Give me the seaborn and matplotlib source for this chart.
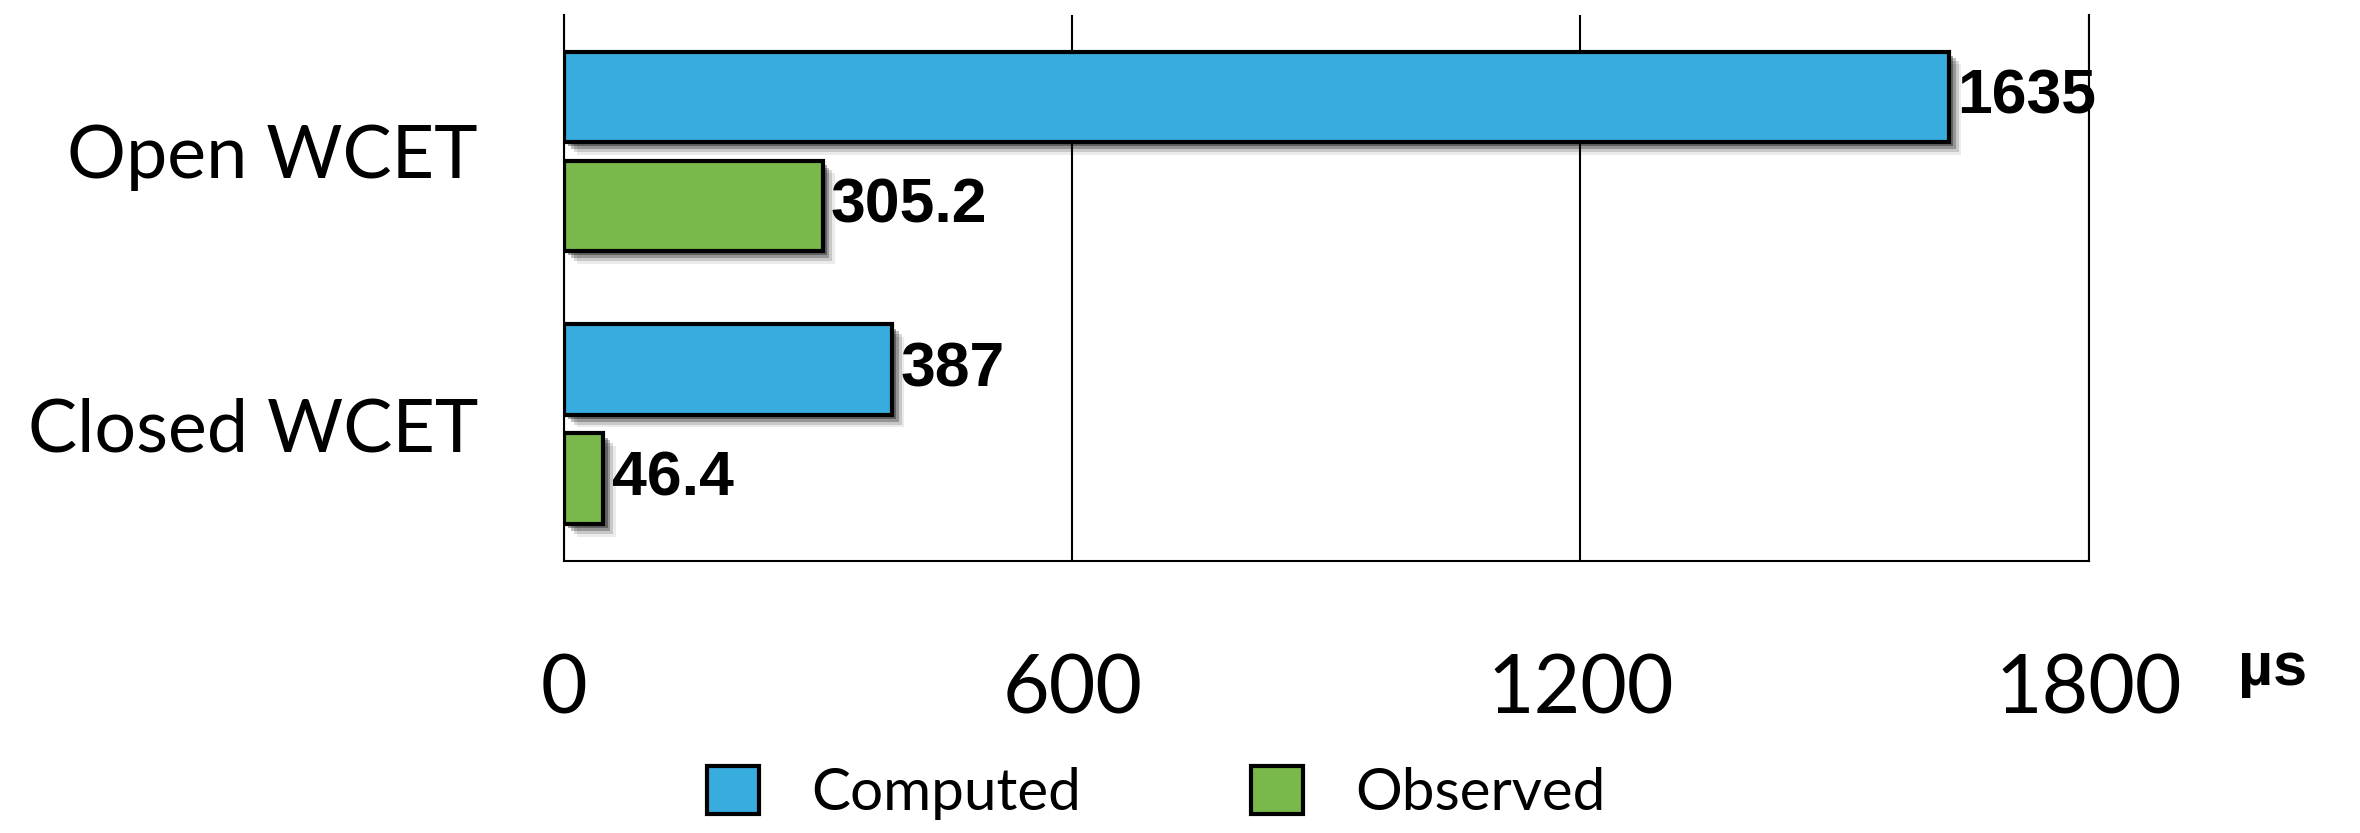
import numpy as np
import pandas as pd
import seaborn as sns
import matplotlib
matplotlib.use("Agg")
import matplotlib.pyplot as plt
import matplotlib.patheffects as pe

# ---- data ----
categories = ["Open WCET", "Closed WCET"]
series = ["Computed", "Observed"]
computed = [1635, 387]
observed = [305.2, 46.4]
x_ticks = [0, 600, 1200, 1800]
x_unit = "µs"

colors = ["#38ABDF", "#79B84A"]

df = pd.DataFrame({
    "category": categories * 2,
    "series": [series[0]] * len(categories) + [series[1]] * len(categories),
    "value": computed + observed,
})

sns.set_style("white")
plt.rcParams["font.family"] = ["Lato", "DejaVu Sans"]
plt.rcParams["text.color"] = "black"
plt.rcParams["xtick.color"] = "black"
plt.rcParams["ytick.color"] = "black"

fig = plt.figure(figsize=(23.6, 8.33), dpi=100)
ax = fig.add_axes([0.239, 0.327, 0.885 - 0.239, 0.982 - 0.327])

sns.barplot(data=df, y="category", x="value", hue="series", orient="h",
            palette=colors, width=0.8, gap=0.17, edgecolor="black",
            linewidth=3, ax=ax, saturation=1)

handles, labels = ax.get_legend_handles_labels()
if ax.get_legend() is not None:
    ax.get_legend().remove()

shadow = [pe.SimplePatchShadow(offset=(9, -9), shadow_rgbFace="black", alpha=0.08),
          pe.SimplePatchShadow(offset=(7, -7), shadow_rgbFace="black", alpha=0.15),
          pe.SimplePatchShadow(offset=(5, -5), shadow_rgbFace="black", alpha=0.25),
          pe.SimplePatchShadow(offset=(3, -3), shadow_rgbFace="black", alpha=0.35),
          pe.Normal()]
for cont in ax.containers:
    for p in cont.patches:
        p.set_path_effects(shadow)
        p.set_zorder(3)
    ax.bar_label(cont, fmt="%g", padding=6, fontsize=45, fontweight="bold",
                 color="black", family=["Liberation Sans", "DejaVu Sans"], zorder=5)

ax.set_xlim(0, 1800)
ax.set_ylim(len(categories) - 0.5, -0.5)
ax.set_xticks(x_ticks)
ax.set_xticklabels([str(t) for t in x_ticks], fontsize=58)
ax.set_yticks(range(len(categories)))
ax.set_yticklabels(categories, fontsize=53)
ax.set_yticks([-0.5, 0.5, 1.5], minor=True)
ax.tick_params(axis="y", which="major", length=0, pad=62)
ax.tick_params(axis="y", which="minor", length=5, width=1.5, color="black", direction="out")
ax.tick_params(axis="x", which="major", length=5, width=1.5, color="black", pad=62, direction="out")
ax.set_xlabel("")
ax.set_ylabel("")

ax.grid(axis="x", color="black", linewidth=1.5, zorder=1)
ax.set_axisbelow(True)
ax.spines["top"].set_visible(False)
for s in ["left", "bottom", "right"]:
    ax.spines[s].set_color("black")
    ax.spines[s].set_linewidth(1.5)

fig.text(0.963, 0.196, x_unit, fontsize=44, fontweight="bold", ha="center", va="center",
         family=["Liberation Sans", "DejaVu Sans"], color="black")

fig.legend(handles, labels, loc="center", bbox_to_anchor=(0.49, 0.048), ncol=2,
           frameon=False, fontsize=42, handlelength=0.9, handleheight=0.9,
           handletextpad=0.9, columnspacing=2.9)

fig.savefig("out.png", dpi=100, facecolor="white")
